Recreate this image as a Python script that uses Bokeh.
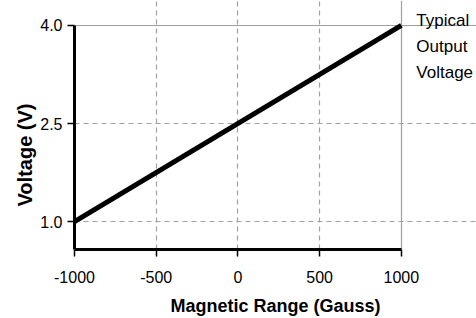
from bokeh.plotting import figure
from bokeh.models import FixedTicker, Range1d, Label, Grid, Title
from bokeh.embed import file_html
from bokeh.resources import INLINE

field = [-1000, 1000]
voltage = [1.0, 4.0]
x_ticks = [-1000, -500, 0, 500, 1000]
x_tick_labels = {-1000: "-1000", -500: "-500", 0: "0", 500: "500", 1000: "1000"}
y_ticks = [1.0, 2.5, 4.0]
y_tick_labels = {1.0: "1.0", 2.5: "2.5", 4.0: "4.0"}
x_grid = [-500, 0, 500]
y_grid = [1.0, 2.5]
x_lo, x_hi = -1000, 1000
y_lo, y_hi = 0.574, 4.0
note = "Typical\nOutput\nVoltage"

FONT = "Liberation Sans"

# frame extended to the right/top so the side note can be drawn inside it
p = figure(width=476, height=318, output_backend="svg", toolbar_location=None,
           x_range=Range1d(x_lo, 1460), y_range=Range1d(y_lo, 4.381),
           min_border_left=74, min_border_right=0, min_border_top=0, min_border_bottom=68)
p.background_fill_color = "white"
p.border_fill_color = "white"
p.outline_line_color = None

p.line(field, voltage, line_width=5, color="black")

p.xaxis.ticker = FixedTicker(ticks=x_ticks)
p.xaxis.major_label_overrides = x_tick_labels
p.yaxis.ticker = FixedTicker(ticks=y_ticks)
p.yaxis.major_label_overrides = y_tick_labels
p.xaxis.bounds = (x_lo, x_hi)
p.yaxis.bounds = (y_lo, y_hi)
for ax in (p.xaxis[0], p.yaxis[0]):
    ax.axis_line_width = 3
    ax.axis_line_color = "black"
    ax.major_tick_line_color = "black"
    ax.major_tick_line_width = 1.5
    ax.major_tick_in = 0
    ax.major_tick_out = 7
    ax.minor_tick_line_color = None
    ax.major_label_text_font = FONT
    ax.major_label_text_font_size = "16px"
    ax.major_label_text_color = "black"
    ax.axis_label_text_font = FONT
    ax.axis_label_text_font_style = "bold"
    ax.axis_label_text_color = "black"
p.xaxis.axis_label = "Magnetic Range (Gauss)"
p.xaxis.axis_label_text_font_size = "18px"
p.xaxis.major_label_standoff = 14
p.xaxis.axis_label_standoff = 10
p.yaxis.major_label_standoff = 5

# y-axis title as a left-side Title, aligned from the bottom of the frame and shifted up
p.add_layout(Title(text="Voltage (V)", align="left", offset=43, standoff=4,
                   text_font=FONT, text_font_size="20px", text_font_style="bold",
                   text_color="black"), "left")

p.xgrid.ticker = FixedTicker(ticks=x_grid)
p.ygrid.ticker = FixedTicker(ticks=y_grid)
p.xgrid.bounds = (y_lo, y_hi)
p.ygrid.bounds = (x_lo, x_hi)
p.grid.grid_line_color = "#a0a0a0"
p.grid.grid_line_dash = "5 4"
p.grid.grid_line_width = 1.2

# solid gray border at the right (x = 1000) and top (y = 4.0)
p.add_layout(Grid(dimension=0, ticker=FixedTicker(ticks=[x_hi]), bounds=(y_lo, y_hi),
                  grid_line_color="#a0a0a0", grid_line_width=1.2))
p.add_layout(Grid(dimension=1, ticker=FixedTicker(ticks=[y_hi]), bounds=(x_lo, x_hi),
                  grid_line_color="#a0a0a0", grid_line_width=1.2))

lab = Label(x=x_hi, y=y_hi, x_offset=15, y_offset=14, text=note,
            text_font=FONT, text_font_size="17px", text_baseline="top",
            text_line_height=1.35, text_color="black")
p.add_layout(lab)

open("out.html", "w").write(file_html(p, INLINE))
